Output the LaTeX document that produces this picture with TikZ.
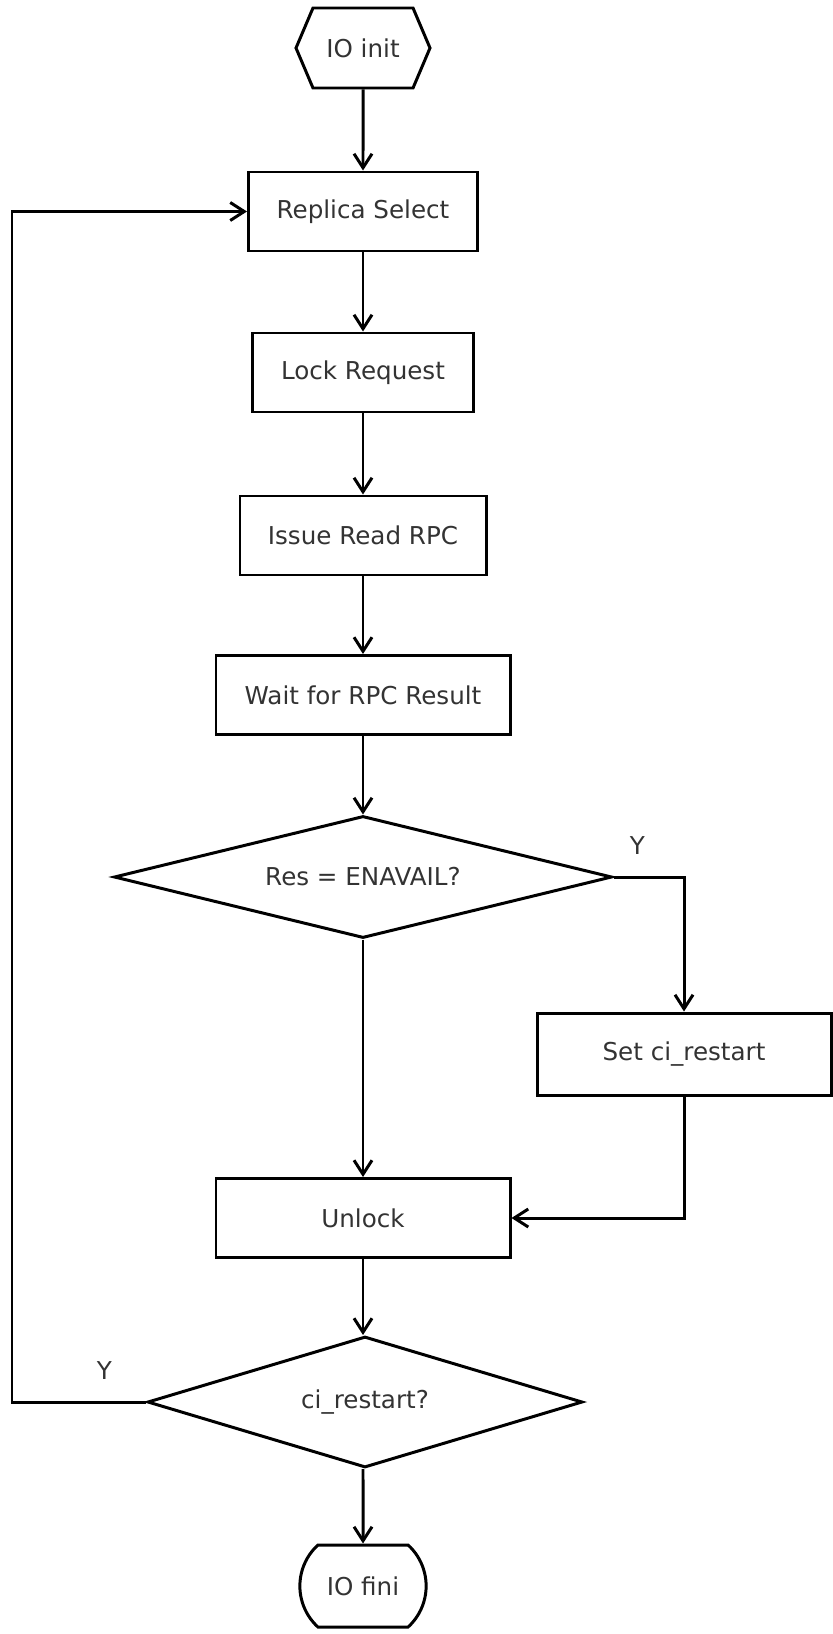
\documentclass[tikz,border=0pt]{standalone}
\usepackage{fontspec}
\setmainfont{DejaVu Sans}
\usepackage{tikz}
\usetikzlibrary{shapes.geometric,shapes.symbols,shapes.misc,arrows.meta}

\begin{document}
\begin{tikzpicture}[line width=1.7pt,
		font=\fontsize{14}{17}\selectfont,
		proc_style/.style={rectangle,draw=black,fill=white,text=black!80,minimum height=1.58cm},
		dec_style/.style={diamond,draw=black,fill=white,text=black!80,inner sep=0pt},
		start_style/.style={signal,signal to=west and east,signal pointer angle=134,draw=black,text=black!80,minimum width=2.68cm,minimum height=1.6cm},
		stop_style/.style={rounded rectangle,rounded rectangle arc length=95,draw=black,text=black!80,minimum width=2.76cm,minimum height=1.64cm},
		lbl_style/.style={text=black!80},
		edge_style/.style={draw=black,-{Straight Barb[length=0.28cm,width=0.36cm]}}]

		\useasboundingbox (0,0) rectangle (16.66,-32.68);

		\node[start_style] (init) at (7.26,-0.96) {IO init};
		\node[proc_style,minimum width=4.58cm] (sel) at (7.26,-4.23) {Replica Select};
		\node[proc_style,minimum width=4.42cm] (lock) at (7.26,-7.45) {Lock Request};
		\node[proc_style,minimum width=4.92cm] (issue) at (7.26,-10.71) {Issue Read RPC};
		\node[proc_style,minimum width=5.88cm] (wait) at (7.26,-13.90) {Wait for RPC Result};
		\node[dec_style,aspect=4.08,minimum width=9.96cm,minimum height=2.44cm] (chk) at (7.26,-17.54) {Res = ENAVAIL?};
		\node[proc_style,minimum width=5.88cm,minimum height=1.64cm] (setr) at (13.68,-21.08) {Set ci\_restart};
		\node[proc_style,minimum width=5.88cm] (unlock) at (7.26,-24.36) {Unlock};
		\node[dec_style,aspect=3.32,minimum width=8.7cm,minimum height=2.62cm] (again) at (7.3,-28.04) {ci\_restart?};
		\node[stop_style] (fini) at (7.26,-31.72) {IO fini};
		\coordinate (loop) at (0.24,-4.23);

		\draw[edge_style]  (init) -- (sel);
		\draw[edge_style]  (sel) -- (lock);
		\draw[edge_style]  (lock) -- (issue);
		\draw[edge_style]  (issue) -- (wait);
		\draw[edge_style]  (wait) -- (chk);
		\draw[edge_style]  (chk.east) -| node[lbl_style,pos=0.17,above=0.3cm] (yes1) {Y} (setr.north);
		\draw[edge_style]  (chk.south) -- (unlock.north);
		\draw[edge_style]  (setr.south) |- (unlock.east);
		\draw[edge_style]  (unlock) -- (again.north -| unlock);
		\draw[edge_style]  (again.south -| fini) -- (fini);
		\draw[edge_style]  (again.west) -| node[lbl_style,pos=0.155,above=0.3cm] (yes2) {Y} (loop) -- (sel.west);
\end{tikzpicture}
\end{document}
